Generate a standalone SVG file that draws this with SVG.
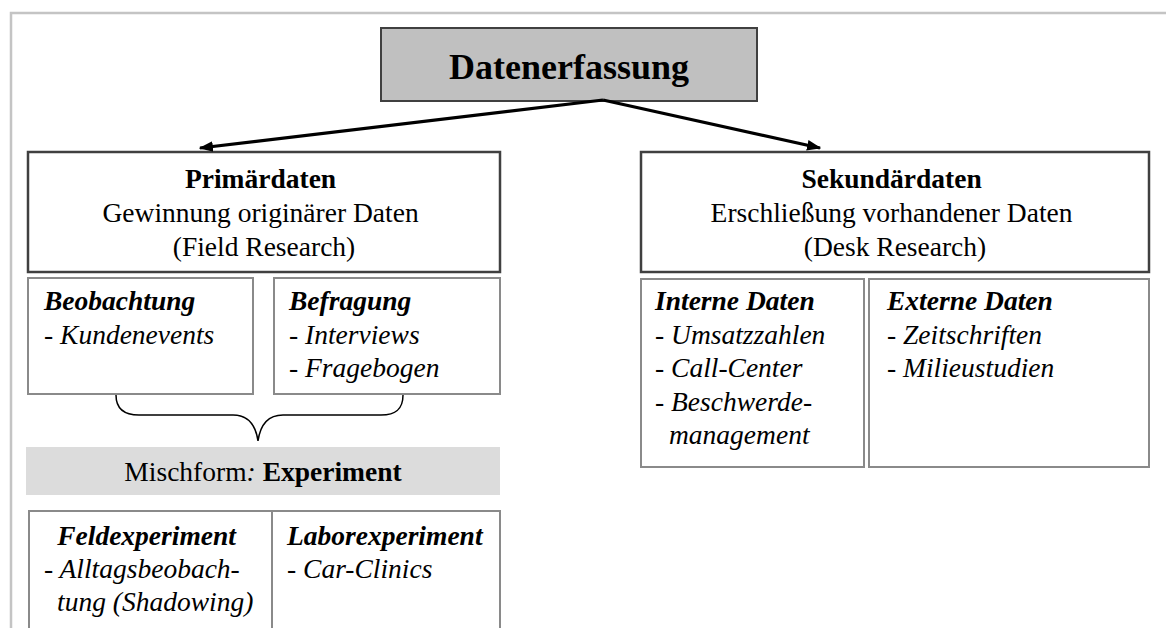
<svg xmlns="http://www.w3.org/2000/svg" width="1166" height="628" viewBox="0 0 1166 628">
  <defs>
    <marker id="arrow" viewBox="0 0 10 10" refX="9" refY="5" markerWidth="4.5" markerHeight="4.5" orient="auto" markerUnits="strokeWidth">
      <path d="M0,1.3 L10,5 L0,8.7 z" fill="#000"/>
    </marker>
    <style>
      text { font-family: "Liberation Serif", "Times New Roman", serif; fill: #000; }
      .main { fill: #fff; stroke: #404040; stroke-width: 2.5; }
      .sub { fill: #fff; stroke: #8a8a8a; stroke-width: 2; }
      .t25 { font-size: 27.5px; }
      .b { font-weight: bold; }
      .i { font-style: italic; }
      .mid { text-anchor: middle; }
      .edge { fill: none; stroke: #000; stroke-width: 3.2; }
    </style>
  </defs>

  <rect width="1166" height="628" fill="#fff"/>

  <!-- page frame -->
  <path d="M11,628 V13 H1166" fill="none" stroke="#c4c4c4" stroke-width="2.5"/>

  <g id="datenerfassung">
    <rect x="381" y="28" width="376" height="73" fill="#c0c0c0" stroke="#404040" stroke-width="2"/>
    <text x="569" y="79" class="b mid" font-size="36">Datenerfassung</text>
  </g>

  <g id="primaerdaten">
    <rect x="28" y="152" width="472" height="120" class="main"/>
    <text class="t25 mid" x="264">
      <tspan x="264" y="188" class="b">Primärdaten</tspan>
      <tspan x="264" y="222">Gewinnung originärer Daten</tspan>
      <tspan x="264" y="256">(Field Research)</tspan>
    </text>
  </g>

  <g id="sekundaerdaten">
    <rect x="641" y="152" width="508" height="120" class="main"/>
    <text class="t25 mid" x="895">
      <tspan x="895" y="188" class="b">Sekundärdaten</tspan>
      <tspan x="895" y="222">Erschließung vorhandener Daten</tspan>
      <tspan x="895" y="256">(Desk Research)</tspan>
    </text>
  </g>

  <g id="beobachtung">
    <rect x="28" y="278" width="225" height="116" class="sub"/>
    <text class="t25 i">
      <tspan x="44" y="310" class="b">Beobachtung</tspan>
      <tspan x="44" y="344">- Kundenevents</tspan>
    </text>
  </g>

  <g id="befragung">
    <rect x="274" y="278" width="226" height="116" class="sub"/>
    <text class="t25 i">
      <tspan x="289" y="310" class="b">Befragung</tspan>
      <tspan x="289" y="344">- Interviews</tspan>
      <tspan x="289" y="377">- Fragebogen</tspan>
    </text>
  </g>

  <g id="interne-daten">
    <rect x="641" y="279" width="223" height="188" class="sub"/>
    <text class="t25 i">
      <tspan x="655" y="310" class="b">Interne Daten</tspan>
      <tspan x="655" y="344">- Umsatzzahlen</tspan>
      <tspan x="655" y="377">- Call-Center</tspan>
      <tspan x="655" y="411">- Beschwerde-</tspan>
      <tspan x="669" y="444">management</tspan>
    </text>
  </g>

  <g id="externe-daten">
    <rect x="869" y="279" width="280" height="188" class="sub"/>
    <text class="t25 i">
      <tspan x="887" y="310" class="b">Externe Daten</tspan>
      <tspan x="887" y="344">- Zeitschriften</tspan>
      <tspan x="887" y="377">- Milieustudien</tspan>
    </text>
  </g>

  <g id="mischform">
    <rect x="26" y="447" width="474" height="48" fill="#dcdcdc"/>
    <text class="t25 mid" x="263" y="481">Mischform<tspan class="i">:</tspan> <tspan class="b">Experiment</tspan></text>
  </g>

  <g id="feldexperiment">
    <rect x="29" y="511" width="243" height="125" class="sub"/>
    <text class="t25 i">
      <tspan x="150" y="545" class="b mid">Feldexperiment</tspan>
      <tspan x="44" y="578">- Alltagsbeobach-</tspan>
      <tspan x="57" y="611">tung (Shadowing)</tspan>
    </text>
  </g>

  <g id="laborexperiment">
    <rect x="272" y="511" width="228" height="125" class="sub"/>
    <text class="t25 i">
      <tspan x="287" y="545" class="b">Laborexperiment</tspan>
      <tspan x="287" y="578">- Car-Clinics</tspan>
    </text>
  </g>

  <g id="connectors">
    <line x1="603" y1="100" x2="200" y2="148" class="edge" marker-end="url(#arrow)"/>
    <line x1="603" y1="100" x2="820" y2="148" class="edge" marker-end="url(#arrow)"/>
    <!-- curly brace joining both observation methods -->
    <path d="M116,395 C116,409 124,415 139,415 H233 C249,415 256,427 258,441 C260,427 267,415 283,415 H381 C396,415 403,409 403,395" fill="none" stroke="#000" stroke-width="1.5"/>
  </g>
</svg>
